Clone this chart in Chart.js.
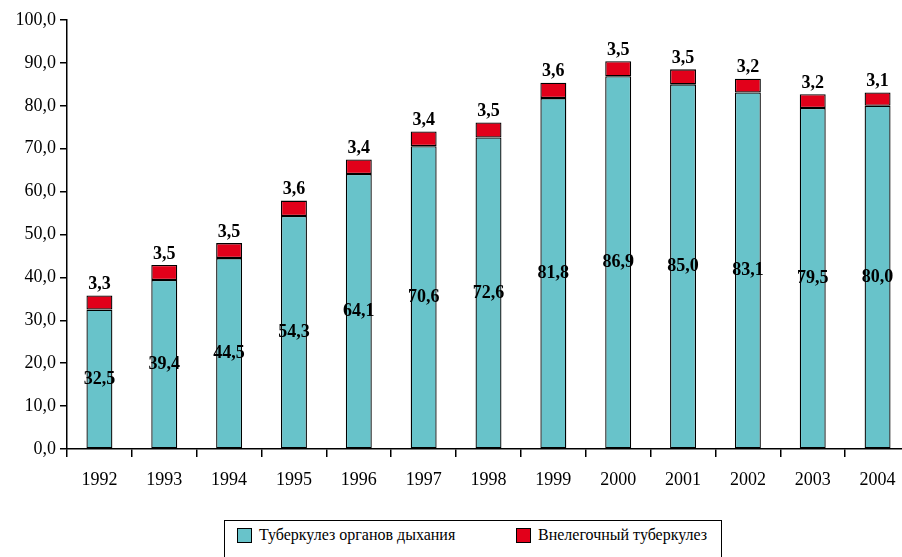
<!DOCTYPE html>
<html><head><meta charset="utf-8">
<script src="https://cdn.jsdelivr.net/npm/chart.js@4/dist/chart.umd.min.js"></script>
<style>
html,body{margin:0;padding:0;background:#fff;overflow:hidden;width:902px;height:557px;}
#wrap{position:absolute;left:0;top:0;width:910px;height:510px;}
#legend{position:absolute;left:224px;top:520px;width:498px;height:50px;border:1px solid #000;box-sizing:border-box;font-family:'Liberation Serif';font-size:16px;color:#000;}
.item{position:absolute;top:5px;display:flex;align-items:center;white-space:nowrap;}
.sw{width:13px;height:13px;border:1px solid #000;margin-right:7px;}
</style></head><body>
<div id="wrap"><canvas id="c" width="910" height="510"></canvas></div>
<div id="legend">
 <div class="item" style="left:12px"><div class="sw" style="background:#68C3CA"></div><span id="l1"></span></div>
 <div class="item" style="left:291px"><div class="sw" style="background:#E2001A"></div><span id="l2"></span></div>
</div>
<script>
const years = ["1992","1993","1994","1995","1996","1997","1998","1999","2000","2001","2002","2003","2004"];
const respiratory = [32.5,39.4,44.5,54.3,64.1,70.6,72.6,81.8,86.9,85.0,83.1,79.5,80.0];
const extrapulmonary = [3.3,3.5,3.5,3.6,3.4,3.4,3.5,3.6,3.5,3.5,3.2,3.2,3.1];
const seriesNames = ["Туберкулез органов дыхания","Внелегочный туберкулез"];
const yTicks = [0,10,20,30,40,50,60,70,80,90,100];

document.getElementById('l1').textContent = seriesNames[0];
document.getElementById('l2').textContent = seriesNames[1];

const fmt = v => v.toFixed(1).replace('.', ',');
const FONT = "'Liberation Serif'";

const labelPlugin = {
  id:'labels',
  afterDatasetsDraw(chart){
    const ctx = chart.ctx;
    ctx.save();
    ctx.font = 'bold 18px ' + FONT;
    ctx.fillStyle = '#000';
    ctx.textAlign = 'center';
    const m0 = chart.getDatasetMeta(0), m1 = chart.getDatasetMeta(1);
    m0.data.forEach((b,i)=>{
      ctx.textBaseline = 'middle';
      ctx.fillText(fmt(respiratory[i]), b.x, (b.y + b.base)/2);
    });
    m1.data.forEach((b,i)=>{
      ctx.textBaseline = 'bottom';
      ctx.fillText(fmt(extrapulmonary[i]), b.x, b.y - 2);
    });
    ctx.restore();
  }
};

new Chart(document.getElementById('c'), {
  type:'bar',
  data:{
    labels: years,
    datasets:[
      {label:seriesNames[0], data:respiratory, backgroundColor:'#68C3CA', borderColor:'#000', borderWidth:1.3, borderSkipped:false},
      {label:seriesNames[1], data:extrapulmonary, backgroundColor:'#E2001A', borderColor:'#000', borderWidth:1.3, borderSkipped:false}
    ]
  },
  options:{
    responsive:false, animation:false,
    barPercentage:0.8, categoryPercentage:0.5,
    layout:{padding:{top:20,left:0,right:0,bottom:0}},
    plugins:{legend:{display:false}, tooltip:{enabled:false}},
    scales:{
      x:{
        stacked:true,
        afterFit(s){ s.height = 61; },
        grid:{display:true, drawOnChartArea:false, offset:true, color:'#000', tickLength:8, lineWidth:1.5},
        border:{display:true, color:'#000', width:1.5},
        ticks:{color:'#000', font:{family:FONT, size:18}, padding:12, maxRotation:0}
      },
      y:{
        stacked:true, min:0, max:100,
        afterFit(s){ s.width = 67; },
        afterBuildTicks(s){ s.ticks = yTicks.map(v=>({value:v})); },
        grid:{display:true, drawOnChartArea:false, color:'#000', tickLength:7, lineWidth:1.5},
        border:{display:true, color:'#000', width:1.5},
        ticks:{color:'#000', font:{family:FONT, size:18}, padding:4, callback:v=>fmt(v)}
      }
    }
  },
  plugins:[labelPlugin]
});
</script>
</body></html>
